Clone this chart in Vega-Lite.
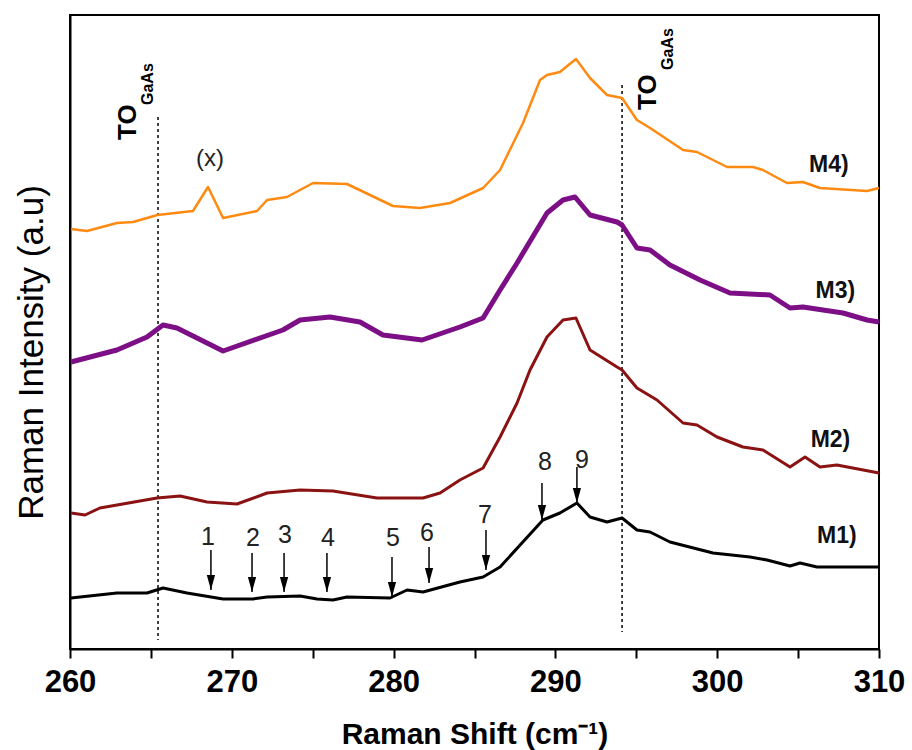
{
  "$schema": "https://vega.github.io/schema/vega-lite/v6.json",
  "autosize": "none",
  "width": 809,
  "height": 634,
  "padding": {"left": 70, "top": 15, "right": 33, "bottom": 101},
  "background": "white",
  "config": {
    "view": {"stroke": "black", "strokeWidth": 2},
    "font": "Liberation Sans"
  },
  "datasets": {
    "curves": [
      {"s": "M4", "x": 260.06, "h": 420}, {"s": "M4", "x": 261.05, "h": 418}, {"s": "M4", "x": 262.9, "h": 426}, {"s": "M4", "x": 263.9, "h": 427},
      {"s": "M4", "x": 265.4, "h": 434}, {"s": "M4", "x": 267.6, "h": 438}, {"s": "M4", "x": 268.53, "h": 462}, {"s": "M4", "x": 269.46, "h": 431},
      {"s": "M4", "x": 271.56, "h": 438}, {"s": "M4", "x": 272.18, "h": 449}, {"s": "M4", "x": 273.41, "h": 452}, {"s": "M4", "x": 275.02, "h": 466},
      {"s": "M4", "x": 277.12, "h": 465}, {"s": "M4", "x": 279.96, "h": 443}, {"s": "M4", "x": 281.63, "h": 441}, {"s": "M4", "x": 283.49, "h": 446},
      {"s": "M4", "x": 285.53, "h": 461}, {"s": "M4", "x": 286.58, "h": 479}, {"s": "M4", "x": 288.0, "h": 526}, {"s": "M4", "x": 289.05, "h": 569},
      {"s": "M4", "x": 289.48, "h": 574}, {"s": "M4", "x": 290.28, "h": 577}, {"s": "M4", "x": 291.27, "h": 590}, {"s": "M4", "x": 292.14, "h": 571},
      {"s": "M4", "x": 293.19, "h": 554}, {"s": "M4", "x": 294.12, "h": 551}, {"s": "M4", "x": 295.04, "h": 529}, {"s": "M4", "x": 295.85, "h": 521},
      {"s": "M4", "x": 297.89, "h": 499}, {"s": "M4", "x": 298.75, "h": 497}, {"s": "M4", "x": 300.61, "h": 482}, {"s": "M4", "x": 302.21, "h": 482},
      {"s": "M4", "x": 302.83, "h": 479}, {"s": "M4", "x": 304.31, "h": 466}, {"s": "M4", "x": 305.3, "h": 467}, {"s": "M4", "x": 306.35, "h": 461},
      {"s": "M4", "x": 309.26, "h": 458}, {"s": "M4", "x": 310, "h": 461},

      {"s": "M3", "x": 260.06, "h": 287}, {"s": "M3", "x": 262.9, "h": 299}, {"s": "M3", "x": 264.76, "h": 312}, {"s": "M3", "x": 265.75, "h": 324},
      {"s": "M3", "x": 266.61, "h": 321}, {"s": "M3", "x": 269.46, "h": 298}, {"s": "M3", "x": 273.16, "h": 319}, {"s": "M3", "x": 274.22, "h": 329},
      {"s": "M3", "x": 276.07, "h": 332}, {"s": "M3", "x": 277.92, "h": 327}, {"s": "M3", "x": 279.34, "h": 314}, {"s": "M3", "x": 281.76, "h": 309},
      {"s": "M3", "x": 284.1, "h": 322}, {"s": "M3", "x": 285.53, "h": 331}, {"s": "M3", "x": 286.58, "h": 359}, {"s": "M3", "x": 287.63, "h": 386},
      {"s": "M3", "x": 289.48, "h": 436}, {"s": "M3", "x": 290.47, "h": 449}, {"s": "M3", "x": 291.21, "h": 452}, {"s": "M3", "x": 292.14, "h": 434},
      {"s": "M3", "x": 293.81, "h": 427}, {"s": "M3", "x": 294.12, "h": 424}, {"s": "M3", "x": 295.04, "h": 401}, {"s": "M3", "x": 295.85, "h": 399},
      {"s": "M3", "x": 297.08, "h": 384}, {"s": "M3", "x": 298.94, "h": 369}, {"s": "M3", "x": 300.79, "h": 356}, {"s": "M3", "x": 303.26, "h": 354},
      {"s": "M3", "x": 304.5, "h": 341}, {"s": "M3", "x": 305.3, "h": 342}, {"s": "M3", "x": 307.78, "h": 336}, {"s": "M3", "x": 309.26, "h": 329},
      {"s": "M3", "x": 310, "h": 327},

      {"s": "M2", "x": 260.06, "h": 136}, {"s": "M2", "x": 260.93, "h": 134}, {"s": "M2", "x": 261.85, "h": 141}, {"s": "M2", "x": 265.38, "h": 151},
      {"s": "M2", "x": 266.8, "h": 153}, {"s": "M2", "x": 268.47, "h": 147}, {"s": "M2", "x": 270.32, "h": 145}, {"s": "M2", "x": 272.18, "h": 156},
      {"s": "M2", "x": 274.22, "h": 159}, {"s": "M2", "x": 276.25, "h": 158}, {"s": "M2", "x": 278.97, "h": 151}, {"s": "M2", "x": 281.82, "h": 151},
      {"s": "M2", "x": 282.87, "h": 156}, {"s": "M2", "x": 284.1, "h": 169}, {"s": "M2", "x": 285.53, "h": 181}, {"s": "M2", "x": 286.58, "h": 212},
      {"s": "M2", "x": 287.63, "h": 246}, {"s": "M2", "x": 288.43, "h": 279}, {"s": "M2", "x": 289.48, "h": 312}, {"s": "M2", "x": 290.47, "h": 329},
      {"s": "M2", "x": 291.27, "h": 331}, {"s": "M2", "x": 292.14, "h": 299}, {"s": "M2", "x": 293.81, "h": 282}, {"s": "M2", "x": 294.12, "h": 279},
      {"s": "M2", "x": 295.04, "h": 261}, {"s": "M2", "x": 296.28, "h": 249}, {"s": "M2", "x": 297.89, "h": 226}, {"s": "M2", "x": 298.75, "h": 224},
      {"s": "M2", "x": 299.99, "h": 212}, {"s": "M2", "x": 301.59, "h": 202}, {"s": "M2", "x": 302.83, "h": 199}, {"s": "M2", "x": 304.5, "h": 182},
      {"s": "M2", "x": 305.43, "h": 192}, {"s": "M2", "x": 306.35, "h": 182}, {"s": "M2", "x": 307.4, "h": 184}, {"s": "M2", "x": 310, "h": 176},

      {"s": "M1", "x": 260.06, "h": 51}, {"s": "M1", "x": 262.9, "h": 56}, {"s": "M1", "x": 264.76, "h": 56}, {"s": "M1", "x": 265.75, "h": 61},
      {"s": "M1", "x": 267.23, "h": 56}, {"s": "M1", "x": 269.46, "h": 50}, {"s": "M1", "x": 271.31, "h": 50}, {"s": "M1", "x": 272.18, "h": 52},
      {"s": "M1", "x": 274.22, "h": 53}, {"s": "M1", "x": 275.27, "h": 50}, {"s": "M1", "x": 276.25, "h": 49}, {"s": "M1", "x": 277.12, "h": 52},
      {"s": "M1", "x": 279.78, "h": 51}, {"s": "M1", "x": 280.83, "h": 59}, {"s": "M1", "x": 281.82, "h": 57}, {"s": "M1", "x": 284.1, "h": 67},
      {"s": "M1", "x": 285.53, "h": 72}, {"s": "M1", "x": 286.58, "h": 82}, {"s": "M1", "x": 289.23, "h": 129}, {"s": "M1", "x": 290.28, "h": 136},
      {"s": "M1", "x": 291.33, "h": 146}, {"s": "M1", "x": 292.14, "h": 132}, {"s": "M1", "x": 293.19, "h": 127}, {"s": "M1", "x": 294.12, "h": 131},
      {"s": "M1", "x": 295.04, "h": 119}, {"s": "M1", "x": 295.85, "h": 117}, {"s": "M1", "x": 297.08, "h": 107}, {"s": "M1", "x": 299.74, "h": 96},
      {"s": "M1", "x": 302.03, "h": 92}, {"s": "M1", "x": 303.08, "h": 89}, {"s": "M1", "x": 304.5, "h": 83}, {"s": "M1", "x": 305.12, "h": 86},
      {"s": "M1", "x": 306.17, "h": 82}, {"s": "M1", "x": 310, "h": 82}
    ],
    "dotted": [
      {"x": 265.44, "top": 532, "bottom": 9},
      {"x": 294.12, "top": 564, "bottom": 17}
    ],
    "arrows": [
      {"n": "1", "x": 268.71, "top": 99, "tip": 59, "lx": 268.53, "lh": 112},
      {"n": "2", "x": 271.25, "top": 96, "tip": 57, "lx": 271.31, "lh": 111},
      {"n": "3", "x": 273.23, "top": 96, "tip": 57, "lx": 273.29, "lh": 114},
      {"n": "4", "x": 275.88, "top": 96, "tip": 57, "lx": 275.95, "lh": 111},
      {"n": "5", "x": 279.9, "top": 92, "tip": 52, "lx": 279.96, "lh": 111},
      {"n": "6", "x": 282.19, "top": 102, "tip": 66, "lx": 282.06, "lh": 116},
      {"n": "7", "x": 285.71, "top": 119, "tip": 79, "lx": 285.65, "lh": 134},
      {"n": "8", "x": 289.17, "top": 166, "tip": 129, "lx": 289.36, "lh": 187},
      {"n": "9", "x": 291.33, "top": 182, "tip": 146, "lx": 291.64, "lh": 189}
    ],
    "mlabels": [
      {"t": "M4)", "x": 306.9, "h": 484},
      {"t": "M3)", "x": 307.3, "h": 358},
      {"t": "M2)", "x": 307.0, "h": 209},
      {"t": "M1)", "x": 307.4, "h": 113}
    ],
    "to": [
      {"t": "TO", "x": 263.6, "h": 509},
      {"t": "TO", "x": 295.75, "h": 539}
    ],
    "sub": [
      {"t": "GaAs", "x": 264.8, "h": 544},
      {"t": "GaAs", "x": 296.95, "h": 579}
    ],
    "xmark": [
      {"t": "(x)", "x": 268.65, "h": 490}
    ]
  },
  "layer": [
    {
      "data": {"name": "dotted"},
      "mark": {"type": "rule", "strokeDash": [3, 3], "strokeWidth": 1.5, "color": "black"},
      "encoding": {
        "x": {
          "field": "x", "type": "quantitative",
          "scale": {"domain": [260, 310], "nice": false, "zero": false},
          "axis": {
            "values": [260, 265, 270, 275, 280, 285, 290, 295, 300, 305, 310],
            "labelExpr": "datum.value % 10 === 0 ? datum.label : ''",
            "labelFlush": false,
            "labelFont": "Liberation Sans",
            "labelFontSize": 31,
            "labelFontWeight": "bold",
            "labelColor": "black",
            "labelPadding": 9,
            "tickSize": 9,
            "tickWidth": 2,
            "tickColor": "black",
            "domainColor": "black",
            "domainWidth": 2,
            "grid": false,
            "title": "Raman Shift (cm⁻¹)",
            "titleFont": "Liberation Sans",
            "titleFontSize": 30,
            "titleFontWeight": "bold",
            "titleColor": "black",
            "titleBaseline": "alphabetic",
            "titleY": 94
          }
        },
        "y": {
          "field": "top", "type": "quantitative",
          "scale": {"domain": [0, 634], "nice": false, "zero": false},
          "axis": {
            "labels": false,
            "ticks": false,
            "grid": false,
            "domainColor": "black",
            "domainWidth": 2,
            "title": "Raman Intensity (a.u)",
            "titleFont": "Liberation Sans",
            "titleFontSize": 35,
            "titleFontWeight": "normal",
            "titleColor": "black",
            "titleAngle": -90,
            "titleBaseline": "alphabetic",
            "titleAlign": "center",
            "titleX": -28,
            "titleY": 337
          }
        },
        "y2": {"field": "bottom"}
      }
    },
    {
      "data": {"name": "curves"},
      "transform": [{"filter": "datum.s === 'M4'"}],
      "mark": {"type": "line", "strokeWidth": 2.5, "color": "#ff8a12", "strokeJoin": "round"},
      "encoding": {
        "x": {"field": "x", "type": "quantitative"},
        "y": {"field": "h", "type": "quantitative"}
      }
    },
    {
      "data": {"name": "curves"},
      "transform": [{"filter": "datum.s === 'M3'"}],
      "mark": {"type": "line", "strokeWidth": 5, "color": "#7d0f86", "strokeJoin": "round"},
      "encoding": {
        "x": {"field": "x", "type": "quantitative"},
        "y": {"field": "h", "type": "quantitative"}
      }
    },
    {
      "data": {"name": "curves"},
      "transform": [{"filter": "datum.s === 'M2'"}],
      "mark": {"type": "line", "strokeWidth": 3, "color": "#8b1212", "strokeJoin": "round"},
      "encoding": {
        "x": {"field": "x", "type": "quantitative"},
        "y": {"field": "h", "type": "quantitative"}
      }
    },
    {
      "data": {"name": "curves"},
      "transform": [{"filter": "datum.s === 'M1'"}],
      "mark": {"type": "line", "strokeWidth": 3, "color": "#000000", "strokeJoin": "round"},
      "encoding": {
        "x": {"field": "x", "type": "quantitative"},
        "y": {"field": "h", "type": "quantitative"}
      }
    },
    {
      "data": {"name": "arrows"},
      "mark": {"type": "rule", "strokeWidth": 1.5, "color": "black"},
      "encoding": {
        "x": {"field": "x", "type": "quantitative"},
        "y": {"field": "top", "type": "quantitative"},
        "y2": {"field": "tip"}
      }
    },
    {
      "data": {"name": "arrows"},
      "mark": {"type": "point", "shape": "M -0.55 -2 L 0.55 -2 L 0 0 Z", "size": 225, "filled": true, "color": "black", "opacity": 1},
      "encoding": {
        "x": {"field": "x", "type": "quantitative"},
        "y": {"field": "tip", "type": "quantitative"}
      }
    },
    {
      "data": {"name": "arrows"},
      "mark": {"type": "text", "fontSize": 25, "font": "Liberation Sans", "color": "#222", "baseline": "middle", "align": "center"},
      "encoding": {
        "x": {"field": "lx", "type": "quantitative"},
        "y": {"field": "lh", "type": "quantitative"},
        "text": {"field": "n"}
      }
    },
    {
      "data": {"name": "mlabels"},
      "mark": {"type": "text", "fontSize": 23, "fontWeight": "bold", "font": "Liberation Sans", "color": "#111", "baseline": "middle", "align": "center"},
      "encoding": {
        "x": {"field": "x", "type": "quantitative"},
        "y": {"field": "h", "type": "quantitative"},
        "text": {"field": "t"}
      }
    },
    {
      "data": {"name": "to"},
      "mark": {"type": "text", "fontSize": 26, "fontWeight": "bold", "font": "Liberation Sans", "color": "black", "baseline": "middle", "align": "left", "angle": 270},
      "encoding": {
        "x": {"field": "x", "type": "quantitative"},
        "y": {"field": "h", "type": "quantitative"},
        "text": {"field": "t"}
      }
    },
    {
      "data": {"name": "sub"},
      "mark": {"type": "text", "fontSize": 16, "fontWeight": "bold", "font": "Liberation Sans", "color": "black", "baseline": "middle", "align": "left", "angle": 270},
      "encoding": {
        "x": {"field": "x", "type": "quantitative"},
        "y": {"field": "h", "type": "quantitative"},
        "text": {"field": "t"}
      }
    },
    {
      "data": {"name": "xmark"},
      "mark": {"type": "text", "fontSize": 24, "font": "Liberation Sans", "color": "#222", "baseline": "middle", "align": "center"},
      "encoding": {
        "x": {"field": "x", "type": "quantitative"},
        "y": {"field": "h", "type": "quantitative"},
        "text": {"field": "t"}
      }
    }
  ]
}
